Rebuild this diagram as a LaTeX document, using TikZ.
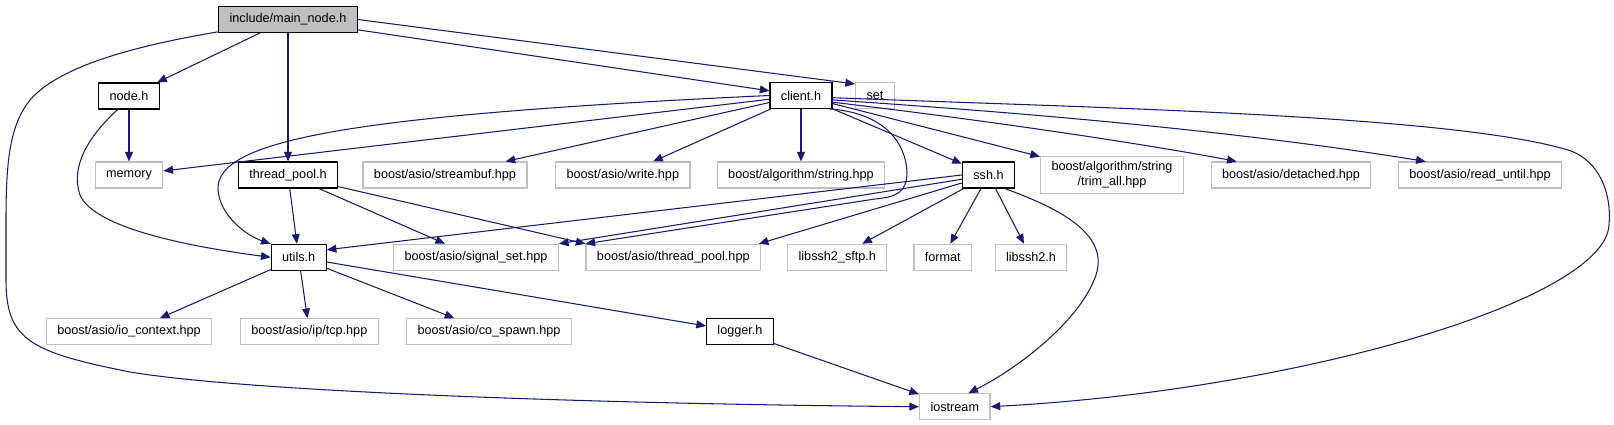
\documentclass[tikz,border=0pt]{standalone}
\usepackage{fontspec}
\setmainfont{Liberation Sans}
\usepackage{tikz}
\usetikzlibrary{arrows.meta}
\definecolor{edgeblue}{HTML}{191970}
\definecolor{boxgray}{HTML}{BFBFBF}
\tikzset{
    file element/.style={
        draw=black,line width=0.7pt,
        fill=white,
        minimum height=14.7pt,inner xsep=6.2pt,inner ysep=3pt,
        font=\fontsize{7.2}{8.6}\selectfont
    },
    system element/.style={
        file element,draw=boxgray
    },
    root element/.style={
        file element,fill=boxgray
    },
    dep line/.style={->,draw=edgeblue,line width=0.6pt},
    >={Triangle[length=5.5pt,width=4.5pt]}
}
\begin{document}
\begin{tikzpicture}[x=0.02cm,y=-0.02cm]
\useasboundingbox (0,0) rectangle (1614,425);
% top rows
\node[root element] (main) at (288,19.5) {include/main\_node.h};
\node[file element] (nodeh) at (129,96) {node.h};
\node[file element] (clienth) at (801,95.5) {client.h};
\node[system element] (set) at (875,95.5) {set};
\node[system element] (memory) at (129,175) {memory};
\node[file element] (thpoolh) at (288,175) {thread\_pool.h};
\node[system element] (streambuf) at (445,175) {boost/asio/streambuf.hpp};
\node[system element] (write) at (622.8,175) {boost/asio/write.hpp};
\node[system element] (algstring) at (801,175) {boost/algorithm/string.hpp};
\node[file element] (sshh) at (988.5,175) {ssh.h};
\node[system element,align=center] (trimall) at (1112,175) {boost/algorithm/string\\/trim\_all.hpp};
\node[system element] (detached) at (1291,175) {boost/asio/detached.hpp};
\node[system element] (readuntil) at (1480,175) {boost/asio/read\_until.hpp};
% lower rows
\node[file element] (utilsh) at (298.7,257.3) {utils.h};
\node[system element] (signalset) at (476,257.3) {boost/asio/signal\_set.hpp};
\node[system element] (thpoolhpp) at (673.3,257.3) {boost/asio/thread\_pool.hpp};
\node[system element] (sftp) at (837.3,257.3) {libssh2\_sftp.h};
\node[system element] (format) at (942.8,257.3) {format};
\node[system element] (libssh2) at (1031,257.3) {libssh2.h};
\node[system element] (iocontext) at (129,331.7) {boost/asio/io\_context.hpp};
\node[system element] (tcp) at (309.3,331.7) {boost/asio/ip/tcp.hpp};
\node[system element] (cospawn) at (489,331.7) {boost/asio/co\_spawn.hpp};
\node[file element] (loggerh) at (740,331.7) {logger.h};
\node[system element] (iostream) at (954.8,406.7) {iostream};
% straight includes
\foreach \src/\dst in {main/nodeh,main/thpoolh,main/clienth,nodeh/memory,
    clienth/memory,clienth/streambuf,clienth/write,clienth/algstring,clienth/sshh,clienth/trimall,
    sshh/sftp,sshh/format,sshh/libssh2,thpoolh/utilsh,thpoolh/signalset,
    utilsh/iocontext,utilsh/tcp,utilsh/cospawn,utilsh/loggerh,loggerh/iostream}
    \draw[dep line] (\src) -- (\dst);
\draw[dep line] (main.east) -- (set.150);
\draw[dep line] (thpoolh) -- (thpoolhpp.north west);
\draw[dep line] (sshh.west) -- (utilsh.15);
\draw[dep line] (sshh) -- (signalset.north east);
\draw[dep line] (sshh) -- (thpoolhpp.9);
% curved includes
\draw[dep line] (main.-170) .. controls (140,45) and (60,65) .. (30,100)
    .. controls (10,125) and (6,160) .. (6,220) -- (6,280)
    .. controls (6,340) and (30,352) .. (130,372)
    .. controls (250,392) and (600,404) .. (iostream.west);
\draw[dep line] (nodeh.-130) .. controls (90,135) and (70,165) .. (80,195)
    .. controls (95,230) and (200,248) .. (utilsh.west);
\draw[dep line] (clienth.west) .. controls (350,115) and (215,140) .. (218,190)
    .. controls (220,215) and (245,235) .. (utilsh.north west);
\draw[dep line] (clienth.-12) .. controls (1000,122) and (1150,145) .. (detached.166);
\draw[dep line] (clienth.-8) .. controls (950,108) and (1200,125) .. (readuntil.166);
\draw[dep line] (clienth.-4) .. controls (1100,108) and (1450,115) .. (1568,150)
    .. controls (1600,160) and (1612,195) .. (1609,225)
    .. controls (1605,300) and (1300,390) .. (iostream.east);
\draw[dep line] (clienth.-25) .. controls (875,112) and (905,135) .. (907,172)
    .. controls (907,192) and (897,197) .. (875,199) -- (thpoolhpp.north west);
\draw[dep line] (sshh.-40) .. controls (1070,212) and (1108,238) .. (1096,275)
    .. controls (1080,322) and (1015,370) .. (iostream.45);
\end{tikzpicture}
\end{document}
